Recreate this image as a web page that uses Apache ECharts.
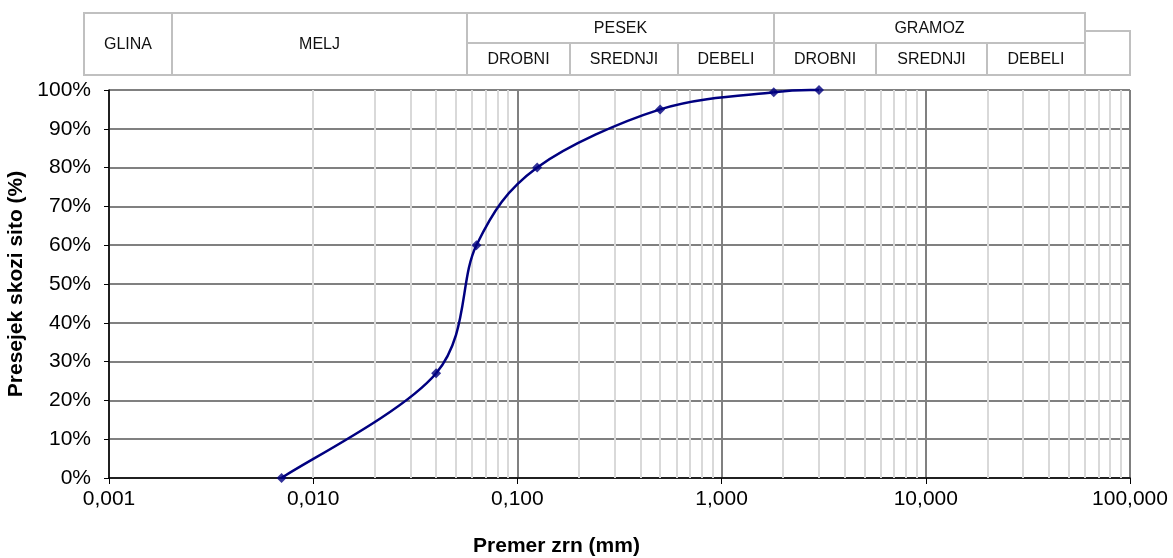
<!DOCTYPE html>
<html>
<head>
<meta charset="utf-8">
<script src="https://cdn.jsdelivr.net/npm/echarts@6/dist/echarts.min.js"></script>
<style>
  html, body { margin: 0; padding: 0; background: #fff; }
  #chart { width: 1173px; height: 558px; }
</style>
</head>
<body>
<div id="chart"></div>
<script>
// sieve data
let grainSize = [0.007, 0.04, 0.063, 0.125, 0.5, 1.8, 3.0];
let passing = [0, 27, 60, 80, 95, 99.4, 100];

// header table texts
let mainClasses = ["GLINA", "MELJ", "PESEK", "GRAMOZ"];
let subClasses = ["DROBNI", "SREDNJI", "DEBELI"];

let decades = [0.001, 0.01, 0.1, 1, 10];

function fmt(v) {
    return v.toFixed(3).replace(".", ",");
}

// light grid lines at 2..9 of each decade
let minorLines = [];
decades.forEach(d => {
    for (let k = 2; k <= 9; k++) minorLines.push({ xAxis: d * k });
});

let font = "Liberation Sans, Arial, sans-serif";
let cellLine = { stroke: "#c0c0c0", lineWidth: 2, fill: "#fff" };

function cell(x1, y1, x2, y2, text) {
    let items = [{
        type: "rect",
        shape: { x: x1, y: y1, width: x2 - x1, height: y2 - y1 },
        style: cellLine
    }];
    if (text) {
        items.push({
            type: "text",
            x: (x1 + x2) / 2,
            y: (y1 + y2) / 2 + 1,
            style: { text: text, fill: "#111", font: "16px " + font, align: "center", verticalAlign: "middle" }
        });
    }
    return items;
}

let header = [].concat(
    cell(84, 13, 172, 75, mainClasses[0]),
    cell(172, 13, 467, 75, mainClasses[1]),
    cell(467, 13, 774, 43, mainClasses[2]),
    cell(467, 43, 570, 75, subClasses[0]),
    cell(570, 43, 678, 75, subClasses[1]),
    cell(678, 43, 774, 75, subClasses[2]),
    cell(774, 13, 1085, 43, mainClasses[3]),
    cell(774, 43, 876, 75, subClasses[0]),
    cell(876, 43, 987, 75, subClasses[1]),
    cell(987, 43, 1085, 75, subClasses[2]),
    cell(1085, 31, 1130, 75, "")
);

// Excel-like smoothed segment (Catmull-Rom, factor 1/6) between point i and i+1
function renderSegment(params, api) {
    let i = params.dataIndex;
    let n = grainSize.length;
    let p = j => api.coord([grainSize[Math.max(0, Math.min(n - 1, j))], passing[Math.max(0, Math.min(n - 1, j))]]);
    let p0 = p(i - 1), p1 = p(i), p2 = p(i + 1), p3 = p(i + 2);
    return {
        type: "bezierCurve",
        shape: {
            x1: p1[0], y1: p1[1],
            x2: p2[0], y2: p2[1],
            cpx1: p1[0] + (p2[0] - p0[0]) / 6, cpy1: p1[1] + (p2[1] - p0[1]) / 6,
            cpx2: p2[0] - (p3[0] - p1[0]) / 6, cpy2: p2[1] - (p3[1] - p1[1]) / 6
        },
        style: { stroke: "#000080", lineWidth: 2.5, fill: null }
    };
}

var myChart = echarts.init(document.getElementById("chart"));
myChart.setOption({
    animation: false,
    textStyle: { fontFamily: font },
    grid: { left: 109, right: 43, top: 90, bottom: 80, containLabel: false, outerBoundsMode: "none" },
    xAxis: {
        type: "log",
        logBase: 10,
        min: 0.001,
        max: 100,
        name: "Premer zrn (mm)",
        nameLocation: "middle",
        nameGap: 58,
        nameTextStyle: { fontSize: 21, fontWeight: "bold", color: "#000", padding: [0, 126, 0, 0] },
        axisLine: { lineStyle: { color: "#000", width: 1.5 } },
        axisTick: { length: 6, lineStyle: { color: "#000" } },
        axisLabel: { fontSize: 21, color: "#000", margin: 11, formatter: fmt },
        splitLine: { show: true, lineStyle: { color: "#808080", width: 2 } }
    },
    yAxis: {
        type: "value",
        min: 0,
        max: 100,
        interval: 10,
        name: "Presejek skozi sito (%)",
        nameLocation: "middle",
        nameGap: 76,
        nameTextStyle: { fontSize: 21, fontWeight: "bold", color: "#000" },
        axisLine: { show: true, lineStyle: { color: "#000", width: 1.5 } },
        axisTick: { show: true, length: 5, lineStyle: { color: "#000" } },
        axisLabel: { fontSize: 21, color: "#000", margin: 18, formatter: v => v + "%" },
        splitLine: { show: true, lineStyle: { color: "#808080", width: 2 } }
    },
    series: [
        {
            type: "line",
            data: [],
            silent: true,
            z: 1,
            markLine: {
                silent: true,
                symbol: "none",
                animation: false,
                z: 1,
                label: { show: false },
                lineStyle: { color: "#d9d9d9", type: "solid", width: 2 },
                data: minorLines
            }
        },
        {
            type: "custom",
            renderItem: renderSegment,
            silent: true,
            z: 5,
            data: grainSize.slice(0, -1).map((x, i) => [x, passing[i]])
        },
        {
            type: "scatter",
            data: grainSize.map((x, i) => [x, passing[i]]),
            symbol: "diamond",
            symbolSize: 10,
            z: 6,
            itemStyle: { color: "#000080" }
        }
    ],
    graphic: header
});
</script>
</body>
</html>
